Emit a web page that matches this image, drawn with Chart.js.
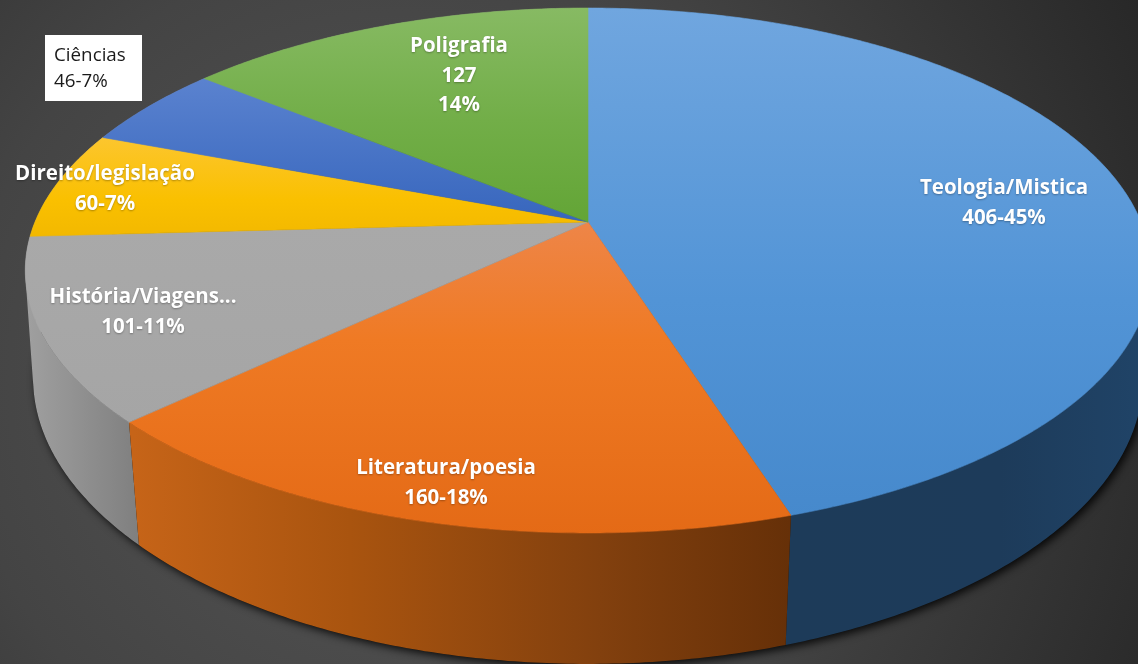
<!DOCTYPE html>
<html>
<head>
<meta charset="utf-8">
<style>html,body{margin:0;padding:0;background:#3c3c3c;overflow:hidden}canvas{display:block}</style>
<script src="https://cdn.jsdelivr.net/npm/chart.js@4"></script>
</head>
<body>
<canvas id="c" width="1138" height="664"></canvas>
<script>
const categories = ["Teologia/Mistica","Literatura/poesia","História/Viagens...","Direito/legislação","Ciências","Poligrafia"];
const values = [406,160,101,60,46,127];
const valueLabels = ["406-45%","160-18%","101-11%","60-7%","46-7%","127"];
const percentLabels = ["","","","","","14%"];

const sliceColors = ["#5b9bd5","#ed7d31","#a5a5a5","#ffc000","#4472c4","#70ad47"];

// Look of the tilted disc
const view = {cx:588, cy:222, rx:553, b:253.5, k:-0.1848, wallSy:1.074, wallTy:91.5};
const topGrad = [
  [[8,"#70a6df"],[300,"#5294d6"],[520,"#4689cc"]],
  [[225,"#ee8547"],[340,"#ef7a24"],[535,"#e46a16"]],
  [[225,"#a9a9a9"],[425,"#a5a5a5"]],
  [[135,"#fcc630"],[200,"#fac000"],[238,"#f2b800"]],
  [[80,"#5a82cf"],[222,"#3766bd"]],
  [[8,"#87ba63"],[120,"#72ae48"],[222,"#63a536"]]
];
const wallGrad = [
  [[790,"#1d3b59"],[1000,"#1d3b5a"],[1150,"#204468"]],
  [[133,"#c66418"],[350,"#a9540f"],[600,"#82400e"],[790,"#663008"]],
  [[25,"#a0a0a0"],[140,"#7f7f7f"]],
  [[25,"#a0a0a0"],[140,"#7f7f7f"]],
  [[25,"#a0a0a0"],[140,"#7f7f7f"]],
  [[25,"#a0a0a0"],[140,"#7f7f7f"]]
];
const labelBoxes = [
  {x:1004,y:188},{x:446,y:468},{x:143,y:297},{x:105,y:174},{x:54,y:55,box:[45,35,97,66]},{x:459,y:46}
];

function project(a){
  const u=Math.cos(a), v=Math.sin(a), d=1+view.k*v;
  return [view.cx+view.rx*u/d, view.cy+view.b*v/d];
}
function lower(p){
  const s=0.9885-0.00005*(p[1]-222);
  return [view.cx+s*(p[0]-view.cx), view.wallSy*p[1]+view.wallTy];
}
function grad(ctx,stops,horizontal){
  const a=stops[0][0], b=stops[stops.length-1][0];
  const g=horizontal?ctx.createLinearGradient(a,0,b,0):ctx.createLinearGradient(0,a,0,b);
  stops.forEach(s=>g.addColorStop((s[0]-a)/(b-a),s[1]));
  return g;
}
function samples(s,e){
  const n=Math.max(4,Math.ceil((e-s)/0.01)), out=[];
  for(let i=0;i<=n;i++) out.push(s+(e-s)*i/n);
  return out;
}
function wallPath(ctx,t){
  ctx.beginPath();
  for(let n=0;n<t.length-1;n++){
    const q=[t[n],t[n+1],lower(t[n+1]),lower(t[n])];
    let area=0;
    q.forEach((p,i)=>{const r=q[(i+1)%4];area+=p[0]*r[1]-r[0]*p[1];});
    if(area<0) q.reverse();
    ctx.moveTo(q[0][0],q[0][1]);
    for(let i=1;i<4;i++) ctx.lineTo(q[i][0],q[i][1]);
    ctx.closePath();
  }
}

const pie3d = {
  id:'pie3d',
  beforeDraw(chart){
    const ctx=chart.ctx;
    ctx.save();
    const g=ctx.createRadialGradient(400,380,60,400,380,900);
    g.addColorStop(0,"#545454");
    g.addColorStop(0.45,"#444444");
    g.addColorStop(1,"#232323");
    ctx.fillStyle=g;
    ctx.fillRect(0,0,chart.width,chart.height);
    ctx.restore();
  },
  beforeDatasetsDraw(chart){
    const ctx=chart.ctx, arcs=chart.getDatasetMeta(0).data;
    ctx.save();
    // cast shadow under the whole disc, from the lower half of the rim
    ctx.save();
    ctx.shadowColor="rgba(0,0,0,0.85)";
    ctx.shadowBlur=9;
    ctx.shadowOffsetX=3;
    ctx.shadowOffsetY=3;
    ctx.fillStyle="#111";
    const rim=samples(arcs[0].startAngle,arcs[arcs.length-1].endAngle).map(project).map(lower);
    ctx.beginPath();
    rim.forEach((p,i)=>i?ctx.lineTo(p[0],p[1]):ctx.moveTo(p[0],p[1]));
    ctx.closePath();ctx.fill();
    ctx.restore();
    // side walls, back to front
    const order=arcs.map((a,i)=>i).sort((i,j)=>
      Math.sin((arcs[i].startAngle+arcs[i].endAngle)/2)-Math.sin((arcs[j].startAngle+arcs[j].endAngle)/2));
    order.forEach(i=>{
      const arc=arcs[i];
      ctx.fillStyle=grad(ctx,wallGrad[i],true);
      wallPath(ctx,samples(arc.startAngle,arc.endAngle).map(project));
      ctx.fill();
    });
    // top face
    arcs.forEach((arc,i)=>{
      ctx.fillStyle=grad(ctx,topGrad[i],false);
      ctx.strokeStyle=ctx.fillStyle;
      ctx.lineWidth=0.6;
      ctx.beginPath();
      ctx.moveTo(view.cx,view.cy);
      samples(arc.startAngle,arc.endAngle).map(project).forEach(p=>ctx.lineTo(p[0],p[1]));
      ctx.closePath();ctx.fill();ctx.stroke();
    });
    ctx.restore();
    return false;
  },
  afterDraw(chart){
    const ctx=chart.ctx;
    ctx.save();
    categories.forEach((name,i)=>{
      const L=labelBoxes[i];
      const lines=[name,valueLabels[i]];
      if(percentLabels[i]) lines.push(percentLabels[i]);
      if(L.box){
        ctx.fillStyle="#ffffff";
        ctx.fillRect(L.box[0],L.box[1],L.box[2],L.box[3]);
        ctx.fillStyle="#1a1a1a";
        ctx.font="18.8px 'Open Sans'";
        ctx.textAlign="left";ctx.textBaseline="middle";
        lines.forEach((s,n)=>ctx.fillText(s,L.x,L.y+1+n*26));
      }else{
        ctx.fillStyle="#ffffff";
        ctx.font="bold 20.5px 'Open Sans'";
        ctx.textAlign="center";ctx.textBaseline="middle";
        ctx.shadowColor="rgba(0,0,0,0.3)";
        ctx.shadowBlur=2;
        ctx.shadowOffsetY=1;
        lines.forEach((s,n)=>ctx.fillText(s,L.x,L.y+n*29.7));
        ctx.shadowColor="transparent";ctx.shadowBlur=0;ctx.shadowOffsetY=0;
      }
    });
    ctx.restore();
  }
};

new Chart(document.getElementById('c'),{
  type:'pie',
  data:{labels:categories,datasets:[{data:values,backgroundColor:sliceColors,borderWidth:0}]},
  options:{
    responsive:false,
    animation:false,
    rotation:0,
    plugins:{legend:{display:false},tooltip:{enabled:false}}
  },
  plugins:[pie3d]
});
</script>
</body>
</html>
